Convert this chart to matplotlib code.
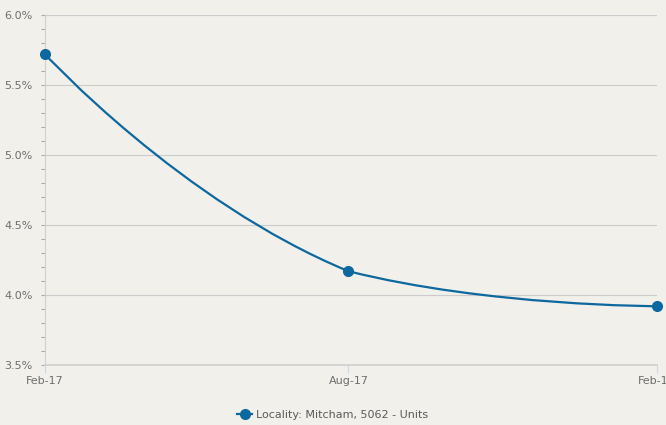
import numpy as np
import matplotlib
matplotlib.use("Agg")
import matplotlib.pyplot as plt
import matplotlib.dates as mdates
from matplotlib.path import Path
from matplotlib.patches import PathPatch
from matplotlib.lines import Line2D
from datetime import datetime

# data
dates = [datetime(2017, 2, 1), datetime(2017, 8, 1), datetime(2018, 2, 1)]
values = [5.72, 4.17, 3.92]
tick_labels = ["Feb-17", "Aug-17", "Feb-18"]
series_name = "Locality: Mitcham, 5062 - Units"

bg = "#f1f0eb"
blue = "#0d689f"
grid_c = "#cccccc"
text_c = "#6e6e6e"

fig = plt.figure(figsize=(6.66, 4.25), dpi=100, facecolor=bg)
ax = fig.add_axes([45/666, 1-365/425, (657-45)/666, (365-15)/425])
ax.set_facecolor(bg)

xnum = mdates.date2num(dates)
ax.set_xlim(xnum[0], xnum[-1])
ax.set_ylim(3.5, 6.0)

# smooth line: bezier control points worked out in pixel space (smooth=0.5, clamped to bbox)
pts = ax.transData.transform(np.column_stack([xnum, values]))
smooth = 0.5
lo, hi = pts.min(axis=0), pts.max(axis=0)
cps = [pts[0].copy()]
for i in range(1, len(pts) - 1):
    p, prev, nxt = pts[i], pts[i-1], pts[i+1]
    v = (nxt - prev) * smooth
    d0 = np.hypot(*(p - prev))
    d1 = np.hypot(*(p - nxt))
    s = d0 + d1
    cp0 = np.clip(p - v * d0 / s, lo, hi)
    cp1 = np.clip(p + v * d1 / s, lo, hi)
    cps += [cp0, cp1]
cps.append(pts[-1].copy())

verts = [pts[0]]
codes = [Path.MOVETO]
for i in range(len(pts) - 1):
    verts += [cps[2*i], cps[2*i+1], pts[i+1]]
    codes += [Path.CURVE4] * 3
inv = ax.transData.inverted()
path = Path(inv.transform(np.array(verts)), codes)
ax.add_patch(PathPatch(path, fill=False, edgecolor=blue, lw=1.6, zorder=3,
                       transform=ax.transData, capstyle="round"))
ax.plot(xnum, values, linestyle="none", marker="o", ms=7, color=blue, zorder=4,
        clip_on=False)

# axes styling
for side in ["top", "right"]:
    ax.spines[side].set_visible(False)
ax.spines["left"].set_color("#d0d0d0")
ax.spines["left"].set_linewidth(0.8)
ax.spines["bottom"].set_color("#cfcfcf")
ax.spines["bottom"].set_linewidth(1.2)

ax.set_yticks(np.arange(3.5, 6.01, 0.5))
ax.set_yticks(np.arange(3.5, 6.01, 0.1), minor=True)
ax.set_yticklabels([f"{v:.1f}%" for v in np.arange(3.5, 6.01, 0.5)])
ax.yaxis.grid(True, which="major", color=grid_c, lw=0.8)
ax.set_axisbelow(True)
ax.tick_params(axis="y", which="both", length=3, width=0.8, color="#ababab",
               labelsize=8, labelcolor=text_c, pad=6)

ax.set_xticks(xnum)
ax.set_xticklabels(tick_labels)
ax.tick_params(axis="x", length=6, width=0.8, color="#ccd6eb",
               labelsize=8, labelcolor=text_c, pad=2)

handle = Line2D([], [], color=blue, lw=1.6, marker="o", ms=7)
fig.legend([handle], [series_name], loc="center", bbox_to_anchor=(0.5, 10/425),
           frameon=False, fontsize=8, labelcolor="#5a5a5a",
           handlelength=1.3, handletextpad=0.4)

fig.savefig("out.png", dpi=100, facecolor=bg)
